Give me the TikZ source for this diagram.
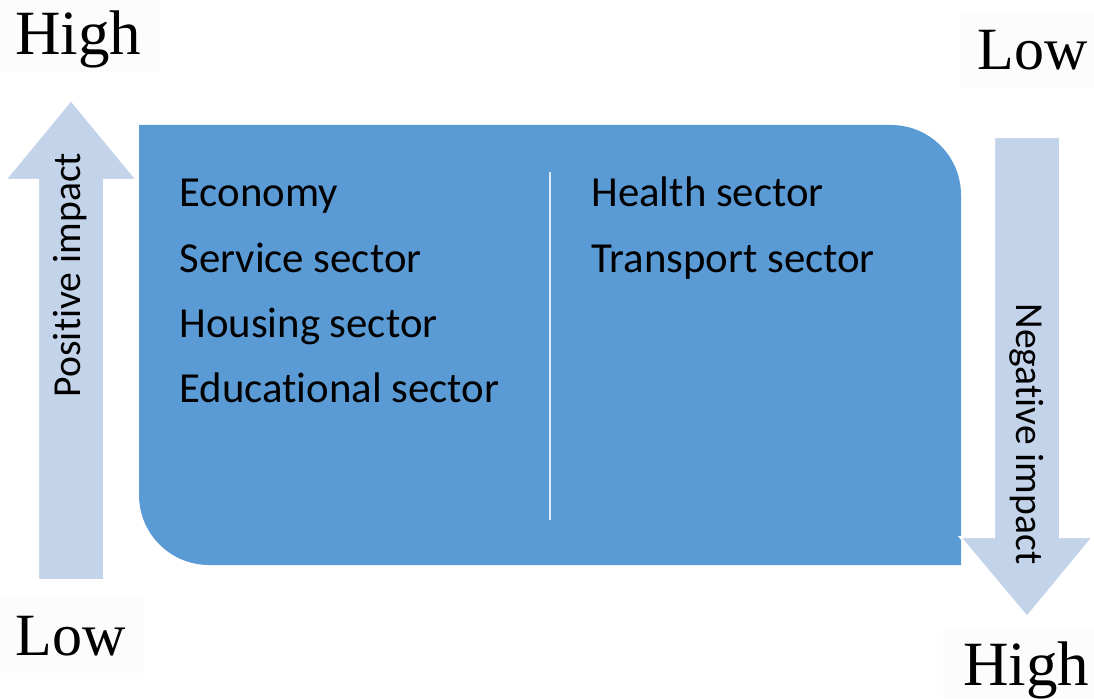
\documentclass[tikz,border=0pt]{standalone}
\usepackage{fontspec}
\setmainfont{Carlito}[RawFeature={-liga;-clig;-dlig;-calt}]
\newfontfamily\serifhl{Liberation Serif}
\newcommand{\nolig}{\kern0pt }
\definecolor{boxblue}{HTML}{5B9BD5}
\definecolor{arrowblue}{HTML}{C3D4EA}
\definecolor{labelbg}{HTML}{FCFCFC}
\begin{document}
\begin{tikzpicture}[x=0.5pt,y=0.5pt,
  item/.style={anchor=base west,inner sep=0pt,font=\fontsize{21.4}{25}\selectfont,text=black},
  axislabel/.style={inner sep=0pt,font=\fontsize{19.8}{24}\selectfont,text=black},
  level/.style={anchor=base west,inner sep=0pt,font=\serifhl\fontsize{31.5}{36}\selectfont,text=black},
  levelsm/.style={level,font=\serifhl\fontsize{30}{34}\selectfont},
  levelbg/.style={fill=labelbg,draw=none},
  bigarrow/.style={fill=arrowblue,draw=white,line width=1pt,line join=miter}]
\useasboundingbox (0,0) rectangle (1094,698);
% faint label backgrounds
\fill[levelbg] (0,626) rectangle (160,698);
\fill[levelbg] (960,611) rectangle (1094,685);
\fill[levelbg] (0,25) rectangle (143,101);
\fill[levelbg] (943,0) rectangle (1094,68);
% main box
\fill[boxblue] (139,573) -- (891,573) arc[start angle=90,end angle=0,radius=70]
  -- (961,133) -- (209,133) arc[start angle=270,end angle=180,radius=70] -- cycle;
% arrows
\path[bigarrow] (38,118) -- (104,118) -- (104,518) -- (137,518) -- (71,598) -- (5,518) -- (38,518) -- cycle;
\path[bigarrow] (994,561) -- (1060,561) -- (1060,161) -- (1093,161) -- (1027,81) -- (960,161) -- (994,161) -- cycle;
% divider
\coordinate (dtop) at (550,526);
\coordinate (dbot) at (550,178);
\draw[white,opacity=0.8,line width=1pt] (dtop) -- (dbot);
% items
\node[item] (economy) at (179,491) {Economy};
\node[item] (service) at (179,426) {Service sector};
\node[item] (housing) at (179,361) {Housing sector};
\node[item] (edu) at (179,296) {Educat\nolig ional sector};
\node[item] (health) at (591,491) {Health sector};
\node[item] (transport) at (591,426) {Transport sector};
% axis labels
\node[axislabel,rotate=90] (pos) at (70,423) {Posit\nolig ive impact};
\node[axislabel,rotate=-90] (neg) at (1027,264) {Negat\nolig ive impact};
% levels
\node[level] (hightl) at (15,643) {High};
\node[levelsm] (lowtr) at (977,628) {Low};
\node[levelsm] (lowbl) at (15,43) {Low};
\node[level] (highbr) at (963,13) {High};
\end{tikzpicture}
\end{document}
